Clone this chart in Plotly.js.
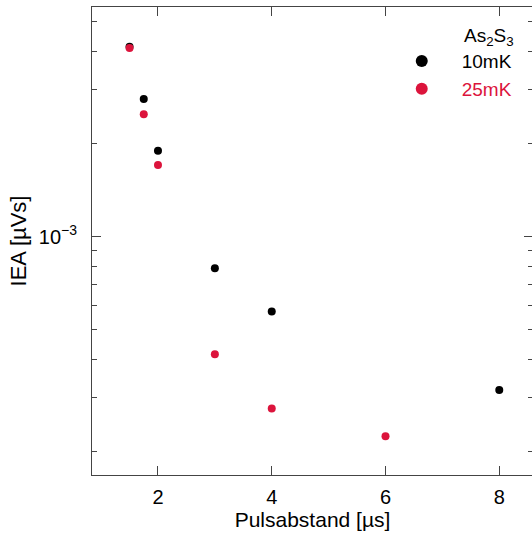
<!DOCTYPE html>
<html>
<head>
<meta charset="utf-8">
<script src="https://cdn.plot.ly/plotly-3.0.1.min.js"></script>
<style>
html,body{margin:0;padding:0;overflow:hidden;background:#fff;}
#chart{width:533px;height:534px;}
</style>
</head>
<body>
<div id="chart"></div>
<script>
// Data
var x10 = [1.5, 1.75, 2, 3, 4, 8];
var y10 = [4.14e-3, 2.80e-3, 1.90e-3, 7.90e-4, 5.72e-4, 3.18e-4];
var x25 = [1.5, 1.75, 2, 3, 4, 6];
var y25 = [4.10e-3, 2.50e-3, 1.71e-3, 4.15e-4, 2.77e-4, 2.25e-4];
var seriesNames = ['10mK', '25mK'];
var legendTitle = 'As<sub>2</sub>S<sub>3</sub>';
var xTickVals = [2, 4, 6, 8];
var yTickVals = [1e-3];
var yTickText = ['10<sup>\u22123</sup>'];
var yMinorVals = [2e-4, 3e-4, 4e-4, 5e-4, 6e-4, 7e-4, 8e-4, 9e-4, 2e-3, 3e-3, 4e-3, 5e-3];

var RED = '#DC143C';
var FONT = 'Liberation Sans, Arial, sans-serif';

var traces = [
  {x: x10, y: y10, type: 'scatter', mode: 'markers', name: seriesNames[0],
   legendgroup: 'a', marker: {color: '#000000', size: 8}},
  {x: x25, y: y25, type: 'scatter', mode: 'markers',
   name: '<span style="color:' + RED + '">' + seriesNames[1] + '</span>',
   legendgroup: 'b', marker: {color: RED, size: 8}}
];

var axisCommon = {
  showgrid: false, zeroline: false, showline: true, linecolor: '#444', linewidth: 1,
  mirror: 'allticks', ticks: 'inside', tickcolor: '#444', tickwidth: 1,
  tickfont: {family: FONT, size: 20, color: '#000'}
};

var layout = {
  width: 533, height: 534,
  margin: {l: 92, r: 0, t: 7, b: 59, autoexpand: false},
  paper_bgcolor: '#fff', plot_bgcolor: '#fff',
  font: {family: FONT, size: 19, color: '#000'},
  showlegend: true,
  legend: {
    x: 0.657, y: 0.925, xanchor: 'left', yanchor: 'top',
    bgcolor: 'rgba(0,0,0,0)', borderwidth: 0,
    font: {family: FONT, size: 19, color: '#000'},
    itemsizing: 'constant', itemwidth: 70,
    traceorder: 'grouped', tracegroupgap: 0
  },
  xaxis: Object.assign({}, axisCommon, {
    range: [0.84, 8.593],
    tickmode: 'array', tickvals: xTickVals, ticklen: 9,
    ticklabelstandoff: 4,
    title: {text: 'Pulsabstand [\u00b5s]', font: {family: FONT, size: 21, color: '#000'}, standoff: 2}
  }),
  yaxis: Object.assign({}, axisCommon, {
    type: 'log', range: [-3.7737, -2.2542],
    tickmode: 'array', tickvals: yTickVals, ticktext: yTickText, ticklen: 9,
    ticklabelstandoff: 10,
    minor: {tickmode: 'array', tickvals: yMinorVals, ticks: 'inside', ticklen: 5, tickcolor: '#444', tickwidth: 1, showgrid: false},
    title: {text: 'IEA [\u00b5Vs]', font: {family: FONT, size: 22, color: '#000'}, standoff: 6}
  }),
  annotations: [
    {xref: 'paper', yref: 'paper', x: 0.839, y: 0.936, xanchor: 'left', yanchor: 'middle',
     text: legendTitle, showarrow: false, font: {family: FONT, size: 19, color: '#000'}}
  ]
};

Plotly.newPlot('chart', traces, layout, {displayModeBar: false, staticPlot: true});
</script>
</body>
</html>
